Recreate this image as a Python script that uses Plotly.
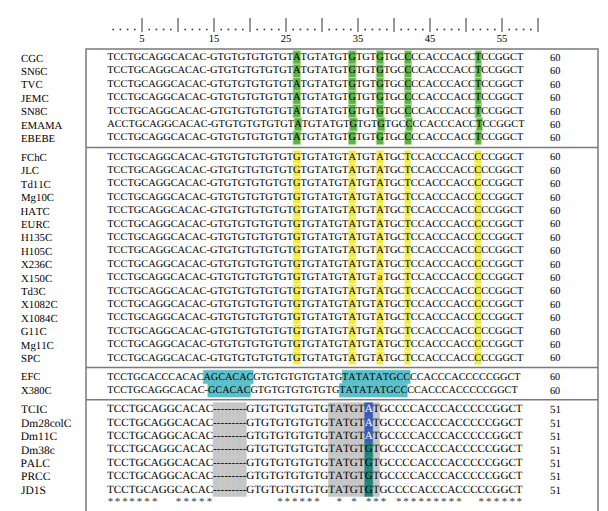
import plotly.graph_objects as go

# ---------------- data ----------------
n_cols = 60
ruler_labels = [5, 15, 25, 35, 45, 55]

g1_names = ["CGC", "SN6C", "TVC", "JEMC", "SN8C", "EMAMA", "EBEBE"]
g1_base = ("TCCTGCAGGCACAC-" + "GTGTGTGTGTGT" + "A" + "TGTATGT" + "G" + "TGT" + "G"
           + "TGC" + "C" + "CCACCCACC" + "T" + "CCGGCT")
g1_emama = "A" + g1_base[1:]
g1_seqs = [g1_base, g1_base, g1_base, g1_base, g1_base, g1_emama, g1_base]
g1_counts = [60] * 7
g1_marks = [28, 36, 40, 44, 54]

g2_names = ["FChC", "JLC", "Td11C", "Mg10C", "HATC", "EURC", "H135C", "H105C",
            "X236C", "X150C", "Td3C", "X1082C", "X1084C", "G11C", "Mg11C", "SPC"]
g2_base = ("TCCTGCAGGCACAC-" + "GTGTGTGTGTGT" + "G" + "TGTATGT" + "A" + "TGT" + "A"
           + "TGC" + "T" + "CCACCCACC" + "C" + "CCGGCT")
g2_x150 = ("TCCTGCAGGCACAC-" + "GTGTGTGTGTGT" + "G" + "TGTATGT" + "A" + "TGT" + "a"
           + "TGC" + "T" + "CCACCCACC" + "C" + "CCGGCT")
g2_seqs = [g2_base] * 9 + [g2_x150] + [g2_base] * 6
g2_counts = [60] * 16
g2_marks = [28, 36, 40, 44, 54]

g3_names = ["EFC", "X380C"]
g3_seqs = ["TCCTGCACCCACAC" + "AGCACAC" + "GTGTGTGTGTATG" + "TATATATGCC" + "CCACCCACCCCCGGCT",
           "TCCTGCAGGCACAC-" + "GCACAC" + "GTGTGTGTGTGTG" + "TATATATGCC" + "CCACCCACCCCCGGCT"]
g3_counts = [60, 60]
g3_marks = [list(range(15, 22)) + list(range(35, 45)),
            list(range(16, 22)) + list(range(35, 45))]

g4_names = ["TCIC", "Dm28colC", "Dm11C", "Dm38c", "PALC", "PRCC", "JD1S"]
g4_var = ["A", "A", "A", "G", "G", "G", "G"]
g4_seqs = ["TCCTGCAGGCACAC" + "---------" + "GTGTGTGTGTG" + "TATGT" + v + "T"
           + "GCCCCACCCACCCCCGGCT" for v in g4_var]
g4_counts = [51] * 7
g4_grey = list(range(15, 24)) + list(range(35, 40)) + [41]
g4_var_col = 40

consensus_cols = (list(range(1, 8)) + list(range(10, 15)) + list(range(28, 34))
                  + [36, 38, 40, 41, 42] + list(range(44, 53)) + list(range(55, 61)))

# ---------------- typesetting helpers ----------------
FONT = "Liberation Serif"
TXT = "#000000"
RULER = "#333333"
W, H = 608, 511
SEQ_LEFT = 99.0
GAP = 0.42
row_px, row0_px = 13.4, 49.5
group_fs = [10.4, 10.4, 10.2, 11.1]
# Liberation Serif advance widths (units per em = 2048); a column keeps its
# upper-case width so that a lower-case base stays in its column
ADV = {"A": 1479, "C": 1366, "G": 1479, "T": 1251, "-": 682}


def geometry(seq, fs):
    adv = [ADV[ch.upper()] / 2048.0 * fs for ch in seq]
    lefts, x = [], SEQ_LEFT
    for a in adv:
        lefts.append(x)
        x += a
    return lefts, adv


groups = [(g1_names, g1_seqs, g1_counts), (g2_names, g2_seqs, g2_counts),
          (g3_names, g3_seqs, g3_counts), (g4_names, g4_seqs, g4_counts)]
slots = []
s = 0.0
for names, _, _ in groups:
    gs = []
    for _ in names:
        gs.append(s)
        s += 1
    slots.append(gs)
    s += GAP

fig = go.Figure()


def add_cells(gi, rows, cols_per_row, fill, line, lw):
    xs, ws, bases = [], [], []
    for r, cols in zip(rows, cols_per_row):
        lefts, adv = geometry(groups[gi][1][r], group_fs[gi])
        for c in cols:
            xs.append(lefts[c - 1] + adv[c - 1] / 2)
            ws.append(adv[c - 1])
            bases.append(slots[gi][r] - 0.5)
    fig.add_trace(go.Bar(x=xs, y=[1] * len(xs), base=bases, width=ws,
                         marker=dict(color=fill, line=dict(color=line, width=lw)),
                         hoverinfo="skip", showlegend=False))


add_cells(0, range(7), [g1_marks] * 7, "#5cb246", "#b3dc9c", 1)
add_cells(1, range(16), [g2_marks] * 16, "#f2ea45", "#f9f4b0", 1)
add_cells(2, range(2), g3_marks, "#5bbfc9", "#5bbfc9", 0.5)
add_cells(3, range(7), [g4_grey] * 7, "#c6c6c6", "#c6c6c6", 0.5)
add_cells(3, range(3), [[g4_var_col]] * 3, "#3a5cb4", "#3a5cb4", 0.5)
add_cells(3, range(3, 7), [[g4_var_col]] * 4, "#1f8279", "#1f8279", 0.5)

# sequence text, one string per row segment (split around special columns)
tx, ty, tt, tc, tf = [], [], [], [], []
for gi, (names, seqs, counts) in enumerate(groups):
    fs = group_fs[gi]
    for r, seq in enumerate(seqs):
        lefts, adv = geometry(seq, fs)
        special = [i + 1 for i, ch in enumerate(seq) if ch.islower()]
        if gi == 3:
            special.append(g4_var_col)
        cuts, start = [], 1
        for c in sorted(special):
            if c > start:
                cuts.append((start, c - 1))
            cuts.append((c, c))
            start = c + 1
        if start <= len(seq):
            cuts.append((start, len(seq)))
        for a, b in cuts:
            x0 = lefts[a - 1]
            x1 = lefts[b - 1] + adv[b - 1]
            tx.append((x0 + x1) / 2)
            ty.append(slots[gi][r])
            tt.append(seq[a - 1:b])
            white = gi == 3 and a == g4_var_col and seq[a - 1] == "A"
            tc.append("#ffffff" if white else TXT)
            tf.append(fs)
fig.add_trace(go.Scatter(x=tx, y=ty, text=tt, mode="text",
                         textfont=dict(family=FONT, size=tf, color=tc),
                         hoverinfo="skip", showlegend=False))

# consensus asterisks (placed under the columns of the last block)
lefts4, adv4 = geometry(g4_seqs[0], group_fs[3])
star_slot = slots[3][-1] + 0.95
fig.add_trace(go.Scatter(x=[lefts4[c - 1] + adv4[c - 1] / 2 for c in consensus_cols],
                         y=[star_slot] * len(consensus_cols),
                         text=["*"] * len(consensus_cols), mode="text",
                         textfont=dict(family=FONT, size=11, color="#333"),
                         hoverinfo="skip", showlegend=False))

# names and counts
for gi, (names, seqs, counts) in enumerate(groups):
    for r in range(len(names)):
        fig.add_annotation(x=13, y=slots[gi][r], text=names[r], showarrow=False,
                           xanchor="left", yanchor="middle", borderpad=0, borderwidth=0,
                           font=dict(family=FONT, size=group_fs[gi] + 0.4, color=TXT))
        fig.add_annotation(x=547, y=slots[gi][r], text=str(counts[r]), showarrow=False,
                           xanchor="center", yanchor="middle", borderpad=0, borderwidth=0,
                           font=dict(family=FONT, size=group_fs[gi], color=TXT))

# ruler on its own (slightly wider) scale, in column units
r_px, r5_px = 7.2, 134.0
bar_slot = (17 - row0_px) / row_px
dot_slot = (21.5 - row0_px) / row_px
label_slot = (31 - row0_px) / row_px
rc = list(range(1, n_cols + 1))
major = [c for c in rc if c % 5 == 0]
minor = [c for c in rc if c % 5 != 0]
fig.add_trace(go.Scatter(x=major, y=[bar_slot] * len(major), mode="markers",
                         marker=dict(symbol="line-ns-open", size=10, color=RULER,
                                     line=dict(color=RULER, width=1)),
                         xaxis="x2", hoverinfo="skip", showlegend=False))
fig.add_trace(go.Scatter(x=minor, y=[dot_slot] * len(minor), mode="markers",
                         marker=dict(symbol="square", size=1.6, color=RULER,
                                     line=dict(width=0)),
                         xaxis="x2", hoverinfo="skip", showlegend=False))
fig.add_trace(go.Scatter(x=ruler_labels, y=[label_slot] * len(ruler_labels),
                         text=[str(v) for v in ruler_labels], mode="text",
                         textfont=dict(family=FONT, size=10.6, color=TXT),
                         xaxis="x2", hoverinfo="skip", showlegend=False))

# frame
top_slot = (41 - row0_px) / row_px
bot_slot = (506 - row0_px) / row_px
fig.add_shape(type="rect", xref="x", yref="y", x0=78, x1=590, y0=top_slot, y1=bot_slot,
              line=dict(color="#7a7a7a", width=1.5), layer="above")
for a, b in zip(slots[:-1], slots[1:]):
    ysep = (a[-1] + b[0]) / 2
    fig.add_shape(type="line", xref="x", yref="y", x0=78, x1=590, y0=ysep, y1=ysep,
                  line=dict(color="#7a7a7a", width=1.5), layer="above")

x2_lo = 5 - r5_px / r_px
x2_hi = 5 + (W - r5_px) / r_px
y_top = -row0_px / row_px
y_bot = (H - row0_px) / row_px

fig.update_layout(
    width=W, height=H, margin=dict(l=0, r=0, t=0, b=0), autosize=False,
    paper_bgcolor="white", plot_bgcolor="white", barmode="overlay",
    showlegend=False, hovermode=False,
    xaxis=dict(range=[0, W], visible=False, fixedrange=True),
    xaxis2=dict(range=[x2_lo, x2_hi], overlaying="x", visible=False, fixedrange=True),
    yaxis=dict(range=[y_bot, y_top], visible=False, fixedrange=True),
)
fig.write_html(
    "out.html",
    post_script="document.querySelectorAll('svg text').forEach(function(t){"
                "t.style.fontKerning='none';t.style.textRendering='geometricPrecision';});",
)
